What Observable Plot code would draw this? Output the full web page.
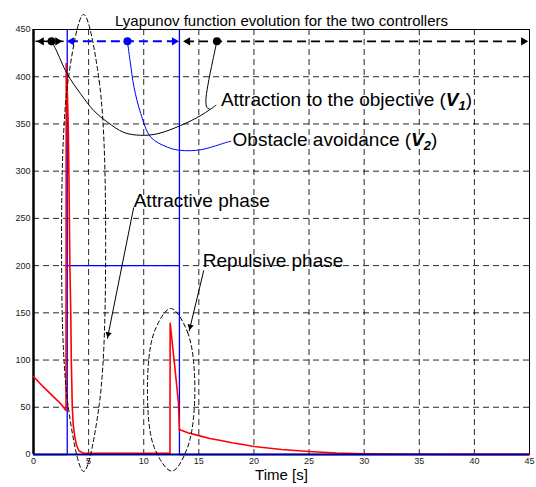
<!DOCTYPE html>
<html><head><meta charset="utf-8">
<script src="https://cdn.jsdelivr.net/npm/d3@7"></script>
<script src="https://cdn.jsdelivr.net/npm/@observablehq/plot@0.6"></script>
<style>
html,body{margin:0;padding:0;background:#fff}
#chart svg{display:block}
</style>
</head><body><div id="chart"></div>
<script>
// ---- axes / ticks ----
const xTicks = [0, 5, 10, 15, 20, 25, 30, 35, 40, 45];
const yTicks = [0, 50, 100, 150, 200, 250, 300, 350, 400, 450];
const titleText = "Lyapunov function evolution for the two controllers";
const xLabel = "Time [s]";

// ---- V1 (attraction to the objective, red) ----
const v1Time  = [0, 0.94, 1.85, 2.45, 2.95, 2.97, 3.08, 3.15, 3.21, 3.3, 3.38, 3.43, 3.52, 3.6, 3.73, 3.9, 4.12, 4.57, 12.38, 12.4, 12.8, 13.15, 13.24, 13.3, 14, 15, 16, 17, 18, 19, 20, 22.5, 25, 27.5, 30, 35, 40, 45];
const v1Value = [82.6, 71, 60.7, 54, 46.5, 414, 380, 350, 300, 200, 150, 100, 50, 32, 20, 10, 4, 1.2, 1.2, 139, 95, 55, 25.5, 26.2, 23, 20, 17, 14.8, 12.5, 10.5, 8.5, 5.3, 3.2, 1.6, 0.8, 0.3, 0.15, 0.1];

// ---- V2 (obstacle avoidance, blue) ----
const v2Time  = [0, 3.06, 3.06, 3.06, 13.24, 13.24, 13.24, 45];
const v2Value = [0, 0, 450, 200, 200, 450, 0, 0];

// ---- phase bar at the top ----
const phaseLevel = 437.5;
const phaseStart = [0.18, 2.91, 13.45];
const phaseEnd   = [2.73, 13.32, 45];
const phaseDot   = [1.64, 8.52, 16.64];
const phaseColor = ["black", "blue", "black"];

// ---- annotation texts ----
const noteText = ["Attraction to the objective (V1)", "Obstacle avoidance (V2)", "Attractive phase", "Repulsive phase"];
const noteX    = [17.0, 18.06, 9.09, 15.36];
const noteY    = [375, 332.8, 269, 204.6];

// ---- annotation leader curves ----
const leaderV1aX = [1.64, 2.0, 3.06, 4.27, 5.48, 6.7, 8.2, 9.73, 11.24, 13.36, 15.18, 16.55];
const leaderV1aY = [437.5, 429.6, 403, 382, 364, 352, 341, 338, 339.6, 348.4, 359, 369.7];
const leaderV1bX = [16.64, 16.27, 15.82, 15.64, 15.73, 16.0];
const leaderV1bY = [437.5, 417.4, 390.9, 375, 367.6, 365.5];
const leaderV2X  = [8.52, 8.76, 9.12, 9.73, 10.64, 12.15, 13.36, 15.18, 17.6, 17.9];
const leaderV2Y  = [437.5, 417, 389, 361, 336, 325.4, 322, 322.7, 330.8, 331.6];

// ---- arrows of the phase notes: [fromX, fromY, tipX, tipY] ----
const arrowAttr = [9.09, 261.6, 6.7, 122.5];
const arrowRep  = [15.45, 195, 14.12, 130.6];

// ---- dashed ellipses (points read around each outline) ----
const ellAX = [4.545, 5.964, 6.545, 5.964, 4.545, 3.127, 2.545, 3.127];
const ellAY = [465.9, 395.1, 224.0, 52.8, -18.0, 52.8, 224.0, 395.1];
const ellBX = [12.45, 13.98, 14.64, 13.98, 12.55, 10.95, 10.34, 10.95];
const ellBY = [154.6, 129.4, 68.5, 7.6, -17.6, 7.6, 68.5, 129.4];

// ---- build tables ----
const W = 536, H = 487, mL = 33, mR = 7, mT = 29, mB = 33;
const zip = (xs, ys) => xs.map((x, i) => ({x, y: ys[i]}));
const v1 = zip(v1Time, v1Value);
const v2 = zip(v2Time, v2Value);
const sx = Plot.scale({x: {domain: [0, 45], range: [mL, W - mR]}});
const sy = Plot.scale({y: {domain: [0, 450], range: [H - mB, mT]}});

function head(a, r) {
  const [fx, fy, tx, ty] = a;
  const px = sx.apply(tx), py = sy.apply(ty), qx = sx.apply(fx), qy = sy.apply(fy);
  const L = Math.hypot(px - qx, py - qy), ux = (px - qx) / L, uy = (py - qy) / L;
  const off = 2 * Math.sqrt(Math.PI * r * r / (3 * Math.sqrt(3)));
  return {x: sx.invert(px - ux * off), y: sy.invert(py - uy * off), rotate: Math.atan2(uy, ux) * 180 / Math.PI + 90};
}
const noteHeads = [head(arrowAttr, 3), head(arrowRep, 3)];

const gridDash = "6,4";
const marks = [
  Plot.gridX(xTicks.slice(1, -1), {stroke: "#000", strokeOpacity: 0.85, strokeWidth: 1, strokeDasharray: gridDash}),
  Plot.gridY(yTicks.slice(1, -1), {stroke: "#000", strokeOpacity: 0.85, strokeWidth: 1, strokeDasharray: gridDash}),
  Plot.frame({stroke: "#000", strokeWidth: 1}),
  Plot.ruleX([0], {stroke: "#000", strokeWidth: 2.5}),
  Plot.axisX({ticks: xTicks, tickSize: 0, tickPadding: 3, fontSize: 9, label: null, color: "#222"}),
  Plot.axisY({ticks: yTicks, tickSize: 0, tickPadding: 3, fontSize: 9, label: null, color: "#222"}),
  Plot.line(v2, {x: "x", y: "y", stroke: "#0000ff", strokeWidth: 1.3}),
  Plot.line(v1, {x: "x", y: "y", stroke: "#ff0000", strokeWidth: 1.6}),
  Plot.ruleY([0], {stroke: "#00008b", strokeWidth: 2.2}),
  // phase bar
  Plot.link([0], {x1: phaseStart[0], x2: phaseEnd[0], y1: phaseLevel, y2: phaseLevel, stroke: phaseColor[0], strokeWidth: 1.6}),
  Plot.link([0], {x1: phaseStart[1] + 0.3, x2: phaseEnd[1] - 0.3, y1: phaseLevel, y2: phaseLevel, stroke: phaseColor[1], strokeWidth: 2, strokeDasharray: "9,5"}),
  Plot.link([0], {x1: phaseStart[2] + 0.3, x2: phaseEnd[2] - 0.3, y1: phaseLevel, y2: phaseLevel, stroke: phaseColor[2], strokeWidth: 1.8, strokeDasharray: "9,5"}),
  Plot.dot([0, 1, 2], {x: (i) => phaseEnd[i], y: () => phaseLevel, fill: (i) => phaseColor[i], symbol: "triangle2", r: 3.9, rotate: 90, dx: -6, stroke: "none"}),
  Plot.dot([0, 1, 2], {x: (i) => phaseStart[i], y: () => phaseLevel, fill: (i) => phaseColor[i], symbol: "triangle2", r: 3.9, rotate: -90, dx: 6, stroke: "none"}),
  // leaders
  Plot.line(zip(leaderV1aX, leaderV1aY), {x: "x", y: "y", stroke: "#000", strokeWidth: 1, curve: "catmull-rom"}),
  Plot.line(zip(leaderV1bX, leaderV1bY), {x: "x", y: "y", stroke: "#000", strokeWidth: 1, curve: "catmull-rom"}),
  Plot.line(zip(leaderV2X, leaderV2Y), {x: "x", y: "y", stroke: "#0000ff", strokeWidth: 1, curve: "catmull-rom"}),
  Plot.dot([0, 1, 2], {x: (i) => phaseDot[i], y: () => phaseLevel, fill: (i) => phaseColor[i], r: 4, stroke: "none"}),
  // ellipses
  Plot.line(zip(ellAX, ellAY), {x: "x", y: "y", stroke: "#000", strokeWidth: 1, strokeDasharray: "4,3", curve: "catmull-rom-closed"}),
  Plot.line(zip(ellBX, ellBY), {x: "x", y: "y", stroke: "#000", strokeWidth: 1, strokeDasharray: "4,3", curve: "catmull-rom-closed"}),
  // phase arrows
  Plot.link([arrowAttr, arrowRep], {x1: (d) => d[0], y1: (d) => d[1], x2: (d) => d[2], y2: (d) => d[3], stroke: "#000", strokeWidth: 1}),
  Plot.dot(noteHeads, {x: "x", y: "y", rotate: "rotate", symbol: "triangle2", r: 3, fill: "#000", stroke: "none"}),
  // texts
  Plot.text(noteText, {x: (d, i) => noteX[i], y: (d, i) => noteY[i], text: (d) => d, textAnchor: "start", fontSize: 19, fill: "#000"}),
  Plot.text([titleText], {frameAnchor: "top", dy: -14, fontSize: 15, fill: "#000"}),
  Plot.text([xLabel], {frameAnchor: "bottom", dy: 25.5, fontSize: 15, fill: "#000"})
];

const svg = Plot.plot({
  width: W, height: H,
  marginLeft: mL, marginRight: mR, marginTop: mT, marginBottom: mB,
  x: {domain: [0, 45]},
  y: {domain: [0, 450]},
  style: {fontFamily: "'Liberation Sans', Arial, sans-serif", background: "#fff", overflow: "visible"},
  marks
});

// subscripts V1 / V2
d3.select(svg).selectAll("text").each(function () {
  const t = this.textContent;
  const m = t.match(/^(.*)\(V(\d)\)$/);
  if (!m) return;
  const sel = d3.select(this);
  sel.text("");
  sel.append("tspan").text(m[1] + "(");
  sel.append("tspan").attr("font-weight", "bold").attr("font-style", "italic").text("V");
  sel.append("tspan").attr("font-weight", "bold").attr("font-style", "italic").attr("font-size", "0.68em").attr("dy", 4).text(m[2]);
  sel.append("tspan").attr("dy", -4).text(")");
});

document.getElementById("chart").appendChild(svg);
</script>
</body></html>
